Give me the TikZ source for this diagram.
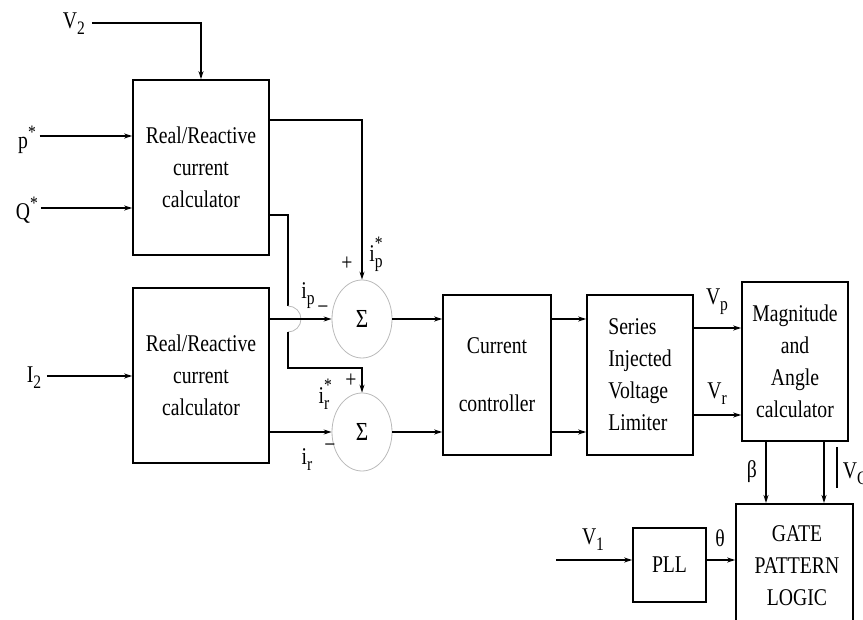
\documentclass[tikz,border=0pt]{standalone}
\usepackage{fontspec}
\setmainfont{Liberation Serif}[FakeStretch=0.82]
\usetikzlibrary{arrows.meta,shapes.geometric,calc}
\newcommand{\lsub}[1]{\raisebox{-0.55ex}{\fontsize{19}{19}\selectfont #1}}
\newcommand{\lsup}[1]{\raisebox{0.9ex}{\fontsize{19}{19}\selectfont #1}}
\newcommand{\lsubsup}[2]{\rlap{\raisebox{1.1ex}{\fontsize{19}{19}\selectfont #2}}\lsub{#1}}

\begin{document}
\begin{tikzpicture}[x=1pt, y=-1pt, line width=1.6pt,
		font=\fontsize{24}{32}\selectfont,
		blockbox/.style={draw, align=center, inner sep=2pt},
		sumnode/.style={ellipse, draw=gray!55, line width=0.8pt, minimum width=60pt, minimum height=78pt, inner sep=0pt, font=\fontsize{26}{28}\selectfont},
		sig/.style={-{Stealth[length=8pt,width=5pt]}},
		lbl/.style={inner sep=1pt}]
		\useasboundingbox (0,0) rectangle (863,620);
		% blocks
		\node[blockbox, minimum width=136pt, minimum height=175pt] (calcP) at (201,167.5) {Real/Reactive\\current\\calculator};
		\node[blockbox, minimum width=136pt, minimum height=175pt] (calcI) at (201,375.5) {Real/Reactive\\current\\calculator};
		\node[sumnode] (sumP) at (362,319) {Σ};
		\node[sumnode] (sumR) at (362,432) {Σ};
		\node[blockbox, minimum width=108pt, minimum height=160pt] (ctrl) at (497,375) {Current\\[26pt]controller};
		\node[blockbox, align=left, minimum width=106pt, minimum height=160pt] (limit) at (640,375) {Series\\Injected\\Voltage\\Limiter};
		\node[blockbox, minimum width=106pt, minimum height=159pt] (magang) at (795,361.5) {Magnitude\\and\\Angle\\calculator};
		\node[blockbox, minimum width=73pt, minimum height=74pt] (pll) at (669.5,565) {PLL};
		\node[blockbox, minimum width=117pt, minimum height=150pt, anchor=north] (gate) at (794.5,503) {};
		\node[align=center] (gatetxt) at (797,566) {GATE\\PATTERN\\LOGIC};
		% inputs
		\node[lbl] (vtwo) at (74,24) {V\lsub{2}};
		\draw[sig] (vtwo.east |- 0,23) ++(5pt,0) -| (calcP.north);
		\node[lbl] (pstar) at (27,140) {p\lsup{*}};
		\draw[sig] (pstar.east |- 0,136) ++(2pt,0) -- (calcP.west |- 0,136);
		\node[lbl] (qstar) at (27,210) {Q\lsup{*}};
		\draw[sig] (qstar.east |- 0,208) ++(1pt,0) -- (calcP.west |- 0,208);
		\node[lbl] (itwo) at (34,378) {I\lsub{2}};
		\draw[sig] (itwo.east |- 0,376) ++(4pt,0) -- (calcI.west |- 0,376);
		% references into the summers
		\draw[sig] (calcP.east |- 0,120) -| (sumP.north);
		\coordinate (hopA) at (288,306);
		\coordinate (hopB) at (288,332);
		\draw (calcP.east |- 0,215) -| (hopA);
		\draw[gray!55, line width=0.8pt] (hopA) arc[start angle=90, end angle=-90, radius=13pt];
		\draw[sig] (hopB) -- (288,368) -| (sumR.north);
		\draw[sig] (calcI.east |- sumP.west) -- (sumP.west);
		\draw[sig] (calcI.east |- sumR.west) -- (sumR.west);
		\node[lbl] (ipstar) at (376,254) {i\lsubsup{p}{*}};
		\node[lbl] (plusP) at (347,264) {+};
		\node[lbl] (ipmeas) at (308,296) {i\lsub{p}};
		\node[lbl] (minusP) at (323,310) {−};
		\node[lbl] (irstar) at (324,394) {i\lsubsup{r}{*}};
		\node[lbl] (plusR) at (351,381) {+};
		\node[lbl] (irmeas) at (307,460) {i\lsub{r}};
		\node[lbl] (minusR) at (330,448) {−};
		% forward path
		\draw[sig] (sumP.east) -- (ctrl.west |- sumP.east);
		\draw[sig] (sumR.east) -- (ctrl.west |- sumR.east);
		\draw[sig] (ctrl.east |- sumP.east) -- (limit.west |- sumP.east);
		\draw[sig] (ctrl.east |- sumR.east) -- (limit.west |- sumR.east);
		\draw[sig] (limit.east |- 0,328) -- (magang.west |- 0,328);
		\draw[sig] (limit.east |- 0,415) -- (magang.west |- 0,415);
		\node[lbl] (vp) at (717,302) {V\lsub{p}};
		\node[lbl] (vr) at (717,394) {V\lsub{r}};
		% to the gate logic
		\draw[sig] (magang.south -| 766,0) -- (gate.north -| 766,0);
		\draw[sig] (magang.south -| 824,0) -- (gate.north -| 824,0);
		\node[lbl] (beta) at (752,472) {β};
		\draw (837,447) -- (837,488);
		\node[lbl, anchor=west] (vc) at (841,474) {V\lsub{C}};
		\coordinate (vonein) at (556,560);
		\draw[sig] (vonein) -- (vonein -| pll.west);
		\node[lbl] (vone) at (593,540) {V\lsub{1}};
		\draw[sig] (vonein -| pll.east) -- (vonein -| gate.west);
		\node[lbl] (theta) at (720,538) {θ};
	\end{tikzpicture}
\end{document}
